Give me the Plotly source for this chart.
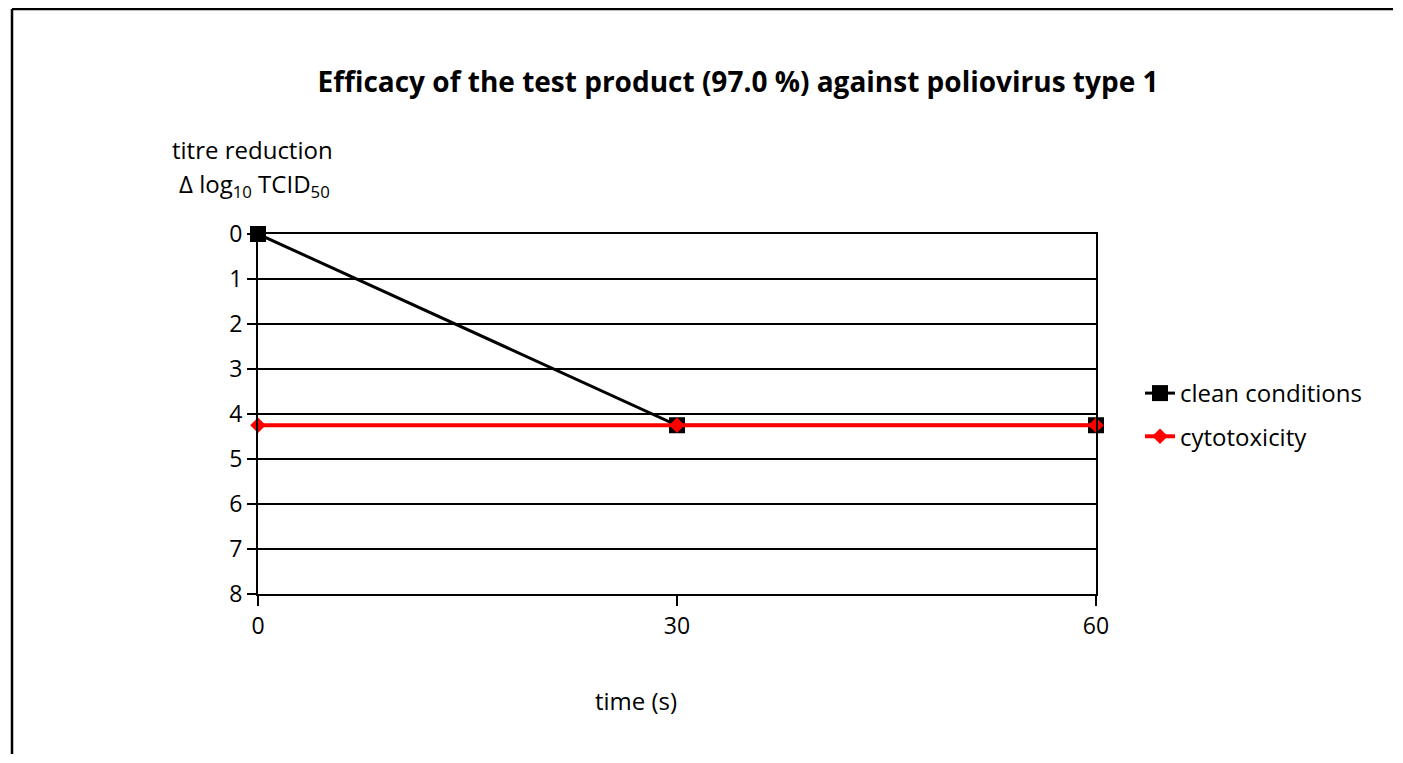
import plotly.graph_objects as go

time_s = [0, 30, 60]
clean_conditions = [0, 4.25, 4.25]
cytotoxicity = [4.25, 4.25, 4.25]
y_ticks = [0, 1, 2, 3, 4, 5, 6, 7, 8]
x_ticks = [0, 30, 60]

SW, SH = 1403, 763          # screen size
OFF = 8                     # page body margin
W, H = SW - 2 * OFF, SH - 2 * OFF
L, R, T, B = 258 - OFF, 1096 - OFF, 234 - OFF, 594 - OFF
FONT = "Open Sans, sans-serif"

def px(x):
    return (x - OFF - L) / (R - L)

def py(y):
    return (B - (y - OFF)) / (B - T)

fig = go.Figure()
fig.add_trace(go.Scatter(x=time_s, y=clean_conditions, name="clean conditions", mode="lines+markers",
                         legendgroup="a", cliponaxis=False,
                         line=dict(color="#000000", width=3),
                         marker=dict(symbol="square", size=16, color="#000000")))
fig.add_trace(go.Scatter(x=time_s, y=cytotoxicity, name="cytotoxicity", mode="lines+markers",
                         legendgroup="b", cliponaxis=False,
                         line=dict(color="#ff0000", width=4),
                         marker=dict(symbol="diamond", size=12, color="#ff0000")))

fig.update_layout(
    width=W, height=H,
    margin=dict(l=L, r=W - R, t=T, b=H - B),
    plot_bgcolor="white", paper_bgcolor="white",
    font=dict(family=FONT, size=23, color="black"),
    title=dict(text="<b>Efficacy of the test product (97.0 %) against poliovirus type 1</b>",
               xref="container", x=(738 - OFF) / W, xanchor="center",
               yref="container", y=1 - (82 - OFF) / H, yanchor="middle",
               font=dict(size=28, family=FONT)),
    xaxis=dict(range=[0, 60], tickvals=x_ticks, ticks="outside", ticklen=10, tickwidth=2,
               tickcolor="black", showgrid=False, zeroline=False, showline=True,
               linecolor="black", linewidth=2, mirror=True,
               tickfont=dict(size=23), title=None),
    yaxis=dict(range=[8, 0], tickvals=y_ticks, ticks="outside", ticklen=9, tickwidth=2,
               tickcolor="black", showgrid=True, gridcolor="black", gridwidth=2,
               zeroline=False, showline=True, linecolor="black", linewidth=2, mirror=True,
               tickfont=dict(size=23)),
    legend=dict(x=px(1140), y=py(371), xanchor="left", yanchor="top",
                font=dict(size=24), bgcolor="rgba(0,0,0,0)", tracegroupgap=9,
                itemwidth=30),
    showlegend=True,
)

fig.add_annotation(text="titre reduction", xref="paper", yref="paper",
                   x=px(252), y=py(149), xanchor="center", yanchor="middle",
                   showarrow=False, font=dict(size=24))
fig.add_annotation(text="Δ log<sub>10</sub> TCID<sub>50</sub>", xref="paper", yref="paper",
                   x=px(254), y=py(185), xanchor="center", yanchor="middle",
                   showarrow=False, font=dict(size=24))
fig.add_annotation(text="time (s)", xref="paper", yref="paper",
                   x=px(636), y=py(700), xanchor="center", yanchor="middle",
                   showarrow=False, font=dict(size=24))

# outer chart border (top and left edges visible in the reference)
fig.add_shape(type="line", xref="paper", yref="paper",
              x0=px(12), y0=py(9), x1=px(SW - OFF - 2), y1=py(9),
              line=dict(color="black", width=2.5), layer="below")
fig.add_shape(type="line", xref="paper", yref="paper",
              x0=px(12), y0=py(9), x1=px(12), y1=py(SH - OFF - 1),
              line=dict(color="black", width=2.5), layer="below")

fig.write_html("out.html")
